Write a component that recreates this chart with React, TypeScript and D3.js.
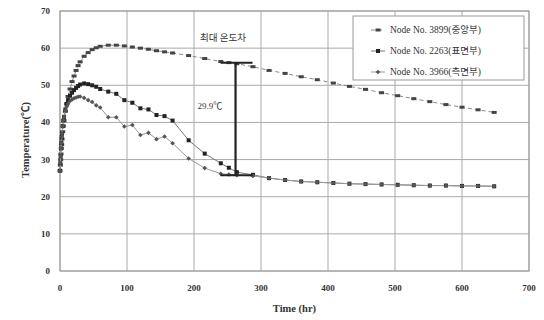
import React from "react";
import * as d3 from "d3";

const times = [0, 0.5, 1, 1.5, 2, 2.5, 3, 4, 5, 6, 8, 10, 12, 15, 18, 21, 24, 27, 30, 36, 42, 48, 54, 60, 72, 84, 96, 108, 120, 132, 144, 156, 168, 192, 216, 240, 252, 264, 288, 312, 336, 360, 384, 408, 432, 456, 480, 504, 528, 552, 576, 600, 624, 648];

const centerVals = [27, 28.5, 30, 31.5, 33, 34, 35.5, 37.5, 39, 40.5, 43, 45, 47, 49, 51, 52.5, 54, 55.3, 56.3, 57.8, 58.8, 59.6, 60.1, 60.5, 60.8, 60.8, 60.6, 60.3, 60.0, 59.7, 59.3, 59.0, 58.7, 58.0, 57.2, 56.4, 56.1, 55.8, 55.0, 54.0, 53.2, 52.3, 51.5, 50.6, 49.7, 48.9, 48.0, 47.2, 46.4, 45.6, 44.8, 44.1, 43.4, 42.7];

const surfaceVals = [27, 29, 31, 33, 34.5, 36, 37, 39, 40.5, 41.5, 43.5, 45, 46, 47.2, 48, 48.7, 49.3, 49.8, 50.2, 50.5, 50.3, 50.0, 49.6, 49.0, 48.3, 47.7, 46.0, 45.3, 43.8, 43.5, 42.0, 41.7, 40.5, 35.2, 31.6, 29.0, 27.8, 26.6, 25.9, 25.0, 24.5, 24.1, 23.9, 23.7, 23.5, 23.4, 23.3, 23.2, 23.1, 23.0, 23.0, 22.9, 22.9, 22.8];

const sideVals = [27, 29, 31, 33, 34.5, 36, 37, 39, 40.5, 41.5, 43.2, 44.3, 45, 45.8, 46.2, 46.5, 46.7, 46.9, 47.0, 46.6, 46.0, 45.5, 44.6, 44.0, 41.4, 41.4, 38.9, 39.3, 36.6, 37.2, 35.5, 36.2, 34.4, 30.3, 27.7, 26.2, 26.0, 25.8, 25.6, 25.0, 24.5, 24.1, 23.9, 23.7, 23.5, 23.4, 23.3, 23.2, 23.1, 23.0, 23.0, 22.9, 22.9, 22.8];

const legendLabels = ["Node No. 3899(중앙부)", "Node No. 2263(표면부)", "Node No. 3966(측면부)"];
const xTicks = [0, 100, 200, 300, 400, 500, 600, 700];
const yTicks = [0, 10, 20, 30, 40, 50, 60, 70];

const annoTime = 262;
const annoTop = 56.1;
const annoBottom = 25.8;
const annoTitle = "최대 온도차";
const annoValue = "29.9℃";

const font = "'Liberation Serif', 'Times New Roman', 'Noto Sans CJK KR', serif";

export default function App() {
  const W = 544, H = 320;
  const left = 60, right = 529, top = 11, bottom = 271;
  const x = d3.scaleLinear().domain([0, 700]).range([left, right]);
  const y = d3.scaleLinear().domain([0, 70]).range([bottom, top]);

  const series = [
    { vals: centerVals, stroke: "#888", dash: "4,3", marker: "dash", mfill: "#444" },
    { vals: surfaceVals, stroke: "#777", dash: "", marker: "square", mfill: "#222" },
    { vals: sideVals, stroke: "#999", dash: "", marker: "diamond", mfill: "#555" },
  ];

  const line = (vals: number[]) =>
    d3.line<number>().x((_, i) => x(times[i])).y((v) => y(v))(vals) || "";

  const drawMarker = (kind: string, cx: number, cy: number, fill: string, key: string) => {
    if (kind === "square") return <rect key={key} x={cx - 2} y={cy - 2} width={4} height={4} fill={fill} />;
    if (kind === "dash") return <rect key={key} x={cx - 2.5} y={cy - 1.5} width={5} height={3} fill={fill} />;
    return <path key={key} d={`M${cx},${cy - 2.3}L${cx + 2.3},${cy}L${cx},${cy + 2.3}L${cx - 2.3},${cy}Z`} fill={fill} />;
  };

  const lx = 353, ly = 16, lw = 171, lh = 64;

  return (
    <svg width={W} height={H} style={{ position: "absolute", left: 0, top: 0, background: "#fff" }} fontFamily={font}>
      {yTicks.map((t) => (
        <line key={"gy" + t} x1={left} x2={right} y1={y(t)} y2={y(t)} stroke="#aaa" strokeWidth={1} />
      ))}
      {xTicks.map((t) => (
        <line key={"gx" + t} x1={x(t)} x2={x(t)} y1={top} y2={bottom} stroke="#aaa" strokeWidth={1} />
      ))}
      <rect x={left} y={top} width={right - left} height={bottom - top} fill="none" stroke="#999" strokeWidth={1} />

      {yTicks.map((t) => (
        <text key={"ty" + t} x={50} y={y(t) + 3} fontSize={9} fontWeight="bold" textAnchor="end" fill="#333">{t}</text>
      ))}
      {xTicks.map((t) => (
        <text key={"tx" + t} x={x(t)} y={291} fontSize={9} fontWeight="bold" textAnchor="middle" fill="#333">{t}</text>
      ))}
      <text x={(left + right) / 2} y={312} fontSize={10.5} fontWeight="bold" textAnchor="middle" fill="#333">Time (hr)</text>
      <text transform={`translate(29,140) rotate(-90)`} fontSize={10.5} fontWeight="bold" textAnchor="middle" fill="#333">Temperature(℃)</text>

      {series.map((s, si) => (
        <g key={"s" + si}>
          <path d={line(s.vals)} fill="none" stroke={s.stroke} strokeWidth={1} strokeDasharray={s.dash} />
          {s.vals.map((v, i) => drawMarker(s.marker, x(times[i]), y(v), s.mfill, `m${si}-${i}`))}
        </g>
      ))}

      {/* annotation */}
      <line x1={x(annoTime)} x2={x(annoTime)} y1={y(annoTop)} y2={y(annoBottom)} stroke="#222" strokeWidth={2.2} />
      <line x1={x(annoTime) - 15} x2={x(annoTime) + 17} y1={y(annoTop)} y2={y(annoTop)} stroke="#222" strokeWidth={2} />
      <line x1={x(annoTime) - 15} x2={x(annoTime) + 17} y1={y(annoBottom)} y2={y(annoBottom)} stroke="#222" strokeWidth={2} />
      <text x={223} y={41} fontSize={9.5} textAnchor="middle" fill="#333">{annoTitle}</text>
      <text x={210} y={109} fontSize={9} textAnchor="middle" fill="#333">{annoValue}</text>

      {/* legend */}
      <rect x={lx} y={ly} width={lw} height={lh} fill="#fff" stroke="#999" strokeWidth={1} />
      {legendLabels.map((lab, i) => (
        <g key={"l" + i}>
          <line x1={371} x2={385} y1={30 + i * 21} y2={30 + i * 21} stroke={series[i].stroke} strokeWidth={1} strokeDasharray={series[i].dash} />
          {drawMarker(series[i].marker, 378, 30 + i * 21, series[i].mfill, "lm" + i)}
          <text x={390} y={33 + i * 21} fontSize={9.5} fill="#333">{lab}</text>
        </g>
      ))}
    </svg>
  );
}
